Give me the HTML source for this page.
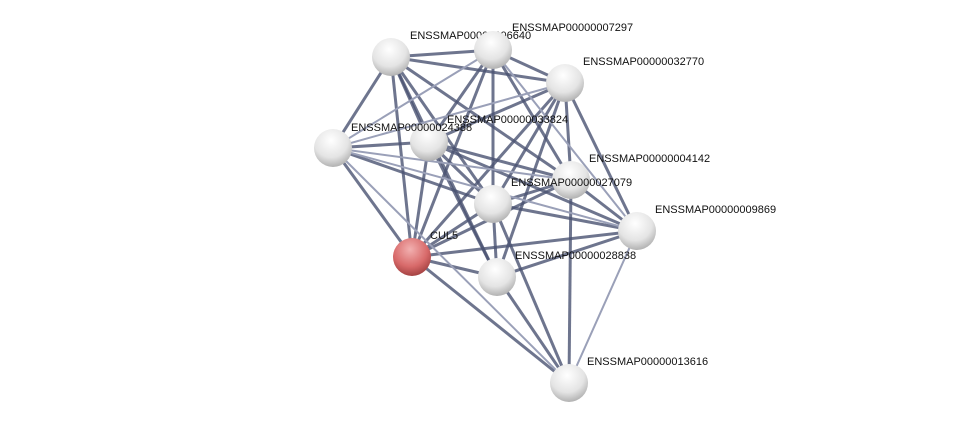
<!DOCTYPE html>
<html><head><meta charset="utf-8"><style>body{margin:0;background:#fff}svg{display:block}text{font-family:"Liberation Sans",sans-serif;font-size:11px;fill:#111}</style></head><body>
<svg width="975" height="428" viewBox="0 0 975 428" xmlns="http://www.w3.org/2000/svg">
<defs>
<radialGradient id="w" cx="0.45" cy="0.3" r="0.75"><stop offset="0" stop-color="#ffffff"/><stop offset="0.6" stop-color="#e4e4e4"/><stop offset="1" stop-color="#a8a8a8"/></radialGradient>
<radialGradient id="r" cx="0.45" cy="0.3" r="0.75"><stop offset="0" stop-color="#f2b0b0"/><stop offset="0.6" stop-color="#d86a6a"/><stop offset="1" stop-color="#9a3a3a"/></radialGradient>
</defs>
<g stroke="#4a5272" stroke-width="3" stroke-opacity="0.8" fill="none">
<line x1="391" y1="57" x2="493" y2="50"/><line x1="391" y1="57" x2="565" y2="83"/><line x1="391" y1="57" x2="333" y2="148"/><line x1="391" y1="57" x2="429" y2="142"/><line x1="391" y1="57" x2="493" y2="204"/><line x1="391" y1="57" x2="497" y2="277"/><line x1="391" y1="57" x2="412" y2="257"/><line x1="391" y1="57" x2="571" y2="180"/>
<line x1="493" y1="50" x2="565" y2="83"/><line x1="493" y1="50" x2="429" y2="142"/><line x1="493" y1="50" x2="493" y2="204"/><line x1="493" y1="50" x2="412" y2="257"/><line x1="493" y1="50" x2="571" y2="180"/>
<line x1="565" y1="83" x2="429" y2="142"/><line x1="565" y1="83" x2="493" y2="204"/><line x1="565" y1="83" x2="571" y2="180"/><line x1="565" y1="83" x2="637" y2="231"/><line x1="565" y1="83" x2="497" y2="277"/><line x1="565" y1="83" x2="412" y2="257"/>
<line x1="333" y1="148" x2="429" y2="142"/><line x1="333" y1="148" x2="412" y2="257"/><line x1="333" y1="148" x2="493" y2="204"/>
<line x1="429" y1="142" x2="493" y2="204"/><line x1="429" y1="142" x2="412" y2="257"/><line x1="429" y1="142" x2="497" y2="277"/><line x1="429" y1="142" x2="571" y2="180"/><line x1="429" y1="142" x2="637" y2="231"/>
<line x1="571" y1="180" x2="493" y2="204"/><line x1="571" y1="180" x2="637" y2="231"/><line x1="571" y1="180" x2="569" y2="383"/><line x1="571" y1="180" x2="412" y2="257"/>
<line x1="493" y1="204" x2="637" y2="231"/><line x1="493" y1="204" x2="412" y2="257"/><line x1="493" y1="204" x2="497" y2="277"/><line x1="493" y1="204" x2="569" y2="383"/>
<line x1="637" y1="231" x2="412" y2="257"/><line x1="637" y1="231" x2="497" y2="277"/>
<line x1="412" y1="257" x2="497" y2="277"/><line x1="412" y1="257" x2="569" y2="383"/><line x1="497" y1="277" x2="569" y2="383"/>
</g>
<g stroke="#9aa0b8" stroke-width="2" fill="none">
<line x1="493" y1="50" x2="333" y2="148"/><line x1="565" y1="83" x2="333" y2="148"/><line x1="333" y1="148" x2="571" y2="180"/><line x1="333" y1="148" x2="569" y2="383"/><line x1="637" y1="231" x2="569" y2="383"/><line x1="333" y1="148" x2="637" y2="231"/><line x1="493" y1="50" x2="637" y2="231"/>
</g>
<circle cx="391" cy="57" r="19" fill="url(#w)"/><text x="410" y="39">ENSSMAP00000006640</text>
<circle cx="493" cy="50" r="19" fill="url(#w)"/><text x="512" y="31">ENSSMAP00000007297</text>
<circle cx="565" cy="83" r="19" fill="url(#w)"/><text x="583" y="65">ENSSMAP00000032770</text>
<circle cx="333" cy="148" r="19" fill="url(#w)"/>
<circle cx="429" cy="142" r="19" fill="url(#w)"/><text x="447" y="123">ENSSMAP00000033824</text><text x="351" y="131">ENSSMAP00000024388</text>
<circle cx="571" cy="180" r="19" fill="url(#w)"/><text x="589" y="162">ENSSMAP00000004142</text>
<circle cx="493" cy="204" r="19" fill="url(#w)"/><text x="511" y="186">ENSSMAP00000027079</text>
<circle cx="637" cy="231" r="19" fill="url(#w)"/><text x="655" y="213">ENSSMAP00000009869</text>
<circle cx="412" cy="257" r="19" fill="url(#r)"/><text x="430" y="239">CUL5</text>
<circle cx="497" cy="277" r="19" fill="url(#w)"/><text x="515" y="259">ENSSMAP00000028838</text>
<circle cx="569" cy="383" r="19" fill="url(#w)"/><text x="587" y="365">ENSSMAP00000013616</text>
</svg>
</body></html>
